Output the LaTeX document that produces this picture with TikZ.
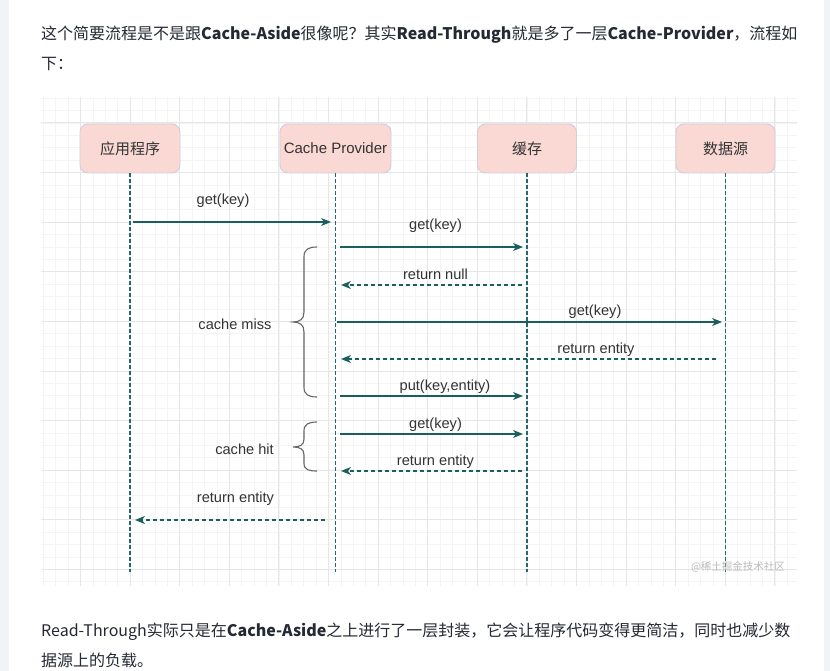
\documentclass[tikz,border=0pt]{standalone}
\usepackage{fontspec}
\setmainfont{Liberation Sans}
\newfontfamily\cjk{Noto Sans CJK SC}
\usetikzlibrary{arrows.meta}
\definecolor{pagegrey}{HTML}{F2F3F5}
\definecolor{gridminor}{HTML}{F4F4F4}
\definecolor{gridmajor}{HTML}{E6E6E6}
\definecolor{boxfill}{HTML}{FAD9D5}
\definecolor{boxline}{HTML}{D3CCDA}
\definecolor{tealline}{HTML}{1B5E5E}
\definecolor{lifecol}{HTML}{256868}
\definecolor{diagtext}{HTML}{333333}
\definecolor{paratext}{HTML}{252933}
\definecolor{bracecol}{HTML}{666666}
\definecolor{wmark}{HTML}{BBBBBB}
\tikzset{
  actor/.style={draw=boxline, fill=boxfill, rounded corners=8pt, line width=0.9pt,
    minimum height=49pt, inner sep=0pt, text=diagtext, font=\fontsize{15}{18}\selectfont},
  lifeline/.style={draw=lifecol, line width=1.4pt, dash pattern=on 3.5pt off 2.5pt},
  msg/.style={draw=tealline, line width=1.3pt, -{Stealth[length=10pt,width=8pt,inset=3pt]}},
  reply/.style={msg, dash pattern=on 4pt off 3pt},
  lbl/.style={inner sep=0pt, text=diagtext, font=\fontsize{14.6}{17}\selectfont},
  bracestyle/.style={draw=bracecol, line width=1.1pt},
  para/.style={inner sep=0pt, anchor=west, text=paratext, font=\cjk\fontsize{16}{20}\selectfont},
  gridmin/.style={draw=gridminor, line width=0.8pt},
  gridmaj/.style={draw=gridmajor, line width=1pt}
}
\begin{document}
\begin{tikzpicture}[x=1pt,y=-1pt]
\useasboundingbox (0,0) rectangle (830,671);
\fill[white] (0,0) rectangle (830,671);
\fill[pagegrey] (0,0) rectangle (9,671);
\fill[pagegrey] (824,0) rectangle (830,671);

% grid
\begin{scope}
\clip (41,97) rectangle (797,586);
\foreach \i in {-4,...,57} { \draw[gridmin] ({80.5+12.4*\i},97) -- ++(0,489); }
\foreach \j in {-3,...,38} { \draw[gridmin] (41,{123+12.4*\j}) -- ++(756,0); }
\foreach \i in {-1,...,15} { \draw[gridmaj] ({80.5+49.6*\i},97) -- ++(0,489); }
\foreach \j in {-1,...,10} { \draw[gridmaj] (41,{123+49.6*\j}) -- ++(756,0); }
\end{scope}

% paragraphs
\node[para] (p1) at (41,34.5) {这个简要流程是不是跟\textbf{Cache-Aside}很像呢？其实\textbf{Read-Through}就是多了一层\textbf{Cache-Provider}，流程如};
\node[para] (p2) at (41,64.5) {下：};
\node[para] (p3) at (41,631.5) {Read-Through实际只是在\textbf{Cache-Aside}之上进行了一层封装，它会让程序代码变得更简洁，同时也减少数};
\node[para] (p4) at (41,660.5) {据源上的负载。};

% actors
\node[actor, minimum width=100pt] (app) at (130,148.5) {\cjk 应用程序};
\node[actor, minimum width=111pt] (prov) at (335.5,148.5) {Cache Provider};
\node[actor, minimum width=99pt] (cache) at (527,148.5) {\cjk 缓存};
\node[actor, minimum width=99pt] (db) at (725.5,148.5) {\cjk 数据源};

% lifelines
\coordinate (appEnd) at (130,572);
\coordinate (provEnd) at (335.5,572);
\coordinate (cacheEnd) at (527,572);
\coordinate (dbEnd) at (725.5,572);
\draw[lifeline] (app.south) -- (appEnd);
\draw[lifeline] (prov.south) -- (provEnd);
\draw[lifeline] (cache.south) -- (cacheEnd);
\draw[lifeline] (db.south) -- (dbEnd);

% message endpoints
\coordinate (m1a) at (133,222);   \coordinate (m1b) at (331,222);
\coordinate (m2a) at (340,247);   \coordinate (m2b) at (523,247);
\coordinate (m3a) at (522,285);   \coordinate (m3b) at (341,285);
\coordinate (m4a) at (337,322);   \coordinate (m4b) at (722,322);
\coordinate (m5a) at (716,359);   \coordinate (m5b) at (341,359);
\coordinate (m6a) at (340,396);   \coordinate (m6b) at (523,396);
\coordinate (m7a) at (340,434);   \coordinate (m7b) at (523,434);
\coordinate (m8a) at (522,471);   \coordinate (m8b) at (341,471);
\coordinate (m9a) at (325,520);   \coordinate (m9b) at (135,520);

\draw[msg] (m1a) -- (m1b);
\draw[msg] (m2a) -- (m2b);
\draw[reply] (m3a) -- (m3b);
\draw[msg] (m4a) -- (m4b);
\draw[reply] (m5a) -- (m5b);
\draw[msg] (m6a) -- (m6b);
\draw[msg] (m7a) -- (m7b);
\draw[reply] (m8a) -- (m8b);
\draw[reply] (m9a) -- (m9b);

% labels
\node[lbl] (l1) at (223,200.5) {get(key)};
\node[lbl] (l2) at (435.5,225.5) {get(key)};
\node[lbl] (l3) at (435.5,274.5) {return null};
\node[lbl] (l4) at (595,311.5) {get(key)};
\node[lbl] (l5) at (596,349.5) {return entity};
\node[lbl] (l6) at (445,386.5) {put(key,entity)};
\node[lbl] (l7) at (435.5,424.5) {get(key)};
\node[lbl] (l8) at (435.5,461.5) {return entity};
\node[lbl] (l9) at (235.5,498.5) {return entity};

% braces
\draw[bracestyle] (317,247) .. controls (309,247) and (304,249) .. (304,257)
  -- (304,312) .. controls (304,319) and (300,322) .. (293,322)
  .. controls (300,322) and (304,325) .. (304,332)
  -- (304,387) .. controls (304,395) and (309,397) .. (317,397);
\draw[bracestyle] (317,422) .. controls (309,422) and (304,424) .. (304,431)
  -- (304,439) .. controls (304,445) and (300,447) .. (293,447)
  .. controls (300,447) and (304,449) .. (304,455)
  -- (304,463) .. controls (304,470) and (309,471) .. (317,471);
\node[lbl] (miss) at (235,324) {cache miss};
\node[lbl] (hit) at (244.5,449) {cache hit};

% watermark
\node[inner sep=0pt, text=wmark, font=\cjk\fontsize{10.5}{12}\selectfont] (wm) at (738,567) {@稀土掘金技术社区};
\end{tikzpicture}
\end{document}
